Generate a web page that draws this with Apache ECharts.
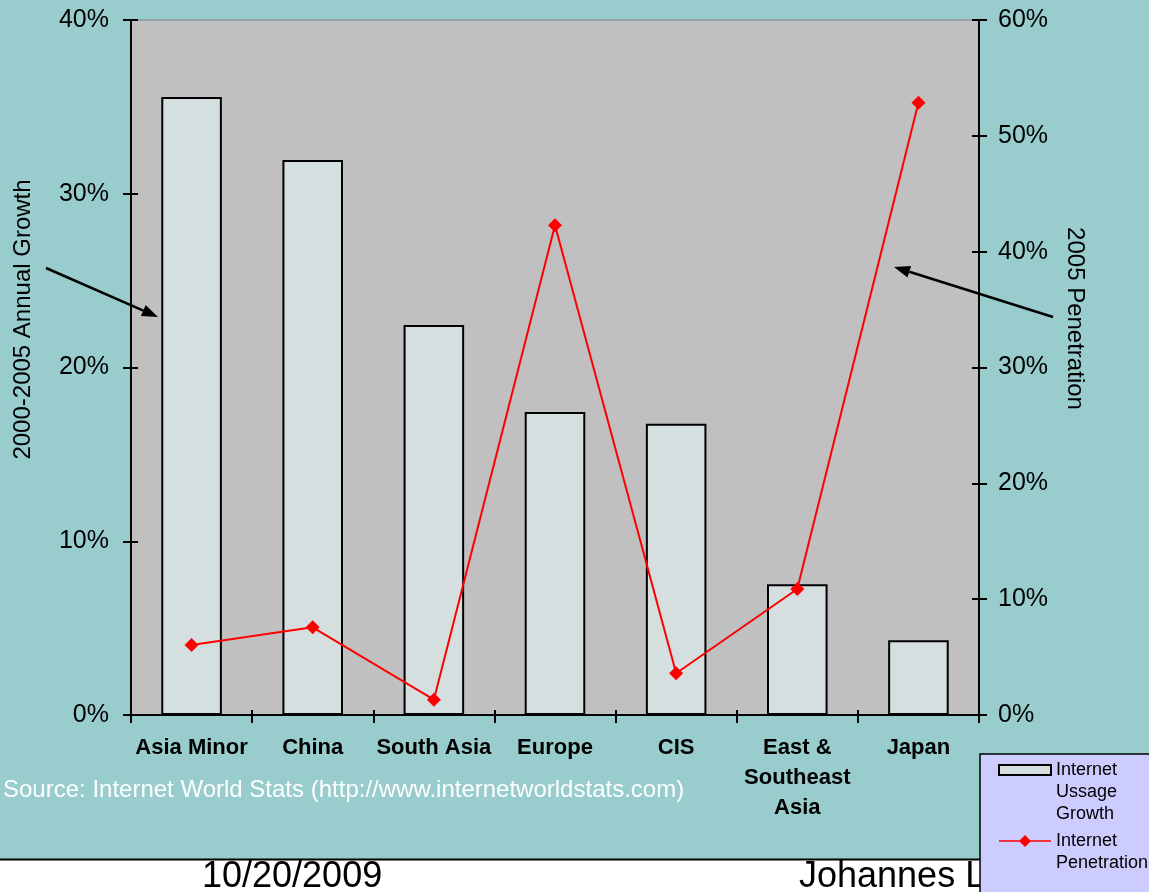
<!DOCTYPE html>
<html>
<head>
<meta charset="utf-8">
<script src="https://cdn.jsdelivr.net/npm/echarts@6/dist/echarts.min.js"></script>
<style>
html,body{margin:0;padding:0;background:#99CCCC;}
#chart{width:1149px;height:892px;}
</style>
</head>
<body>
<div id="chart"></div>
<script>
var categories = ['Asia Minor', 'China', 'South Asia', 'Europe', 'CIS', 'East &\nSoutheast\nAsia', 'Japan'];
var growthValues = [0.3557, 0.3194, 0.2245, 0.1744, 0.1676, 0.0752, 0.0430];
var penetrationValues = [0.0605, 0.0757, 0.0132, 0.4229, 0.0360, 0.1088, 0.5286];
var leftTicks = [0, 0.1, 0.2, 0.3, 0.4];
var rightTicks = [0, 0.1, 0.2, 0.3, 0.4, 0.5, 0.6];
var growthName = 'Internet\nUssage\nGrowth';
var penetrationName = 'Internet\nPenetration';

var FONT = '"Liberation Sans", Arial, Helvetica, sans-serif';
var pct = function (v) { return Math.round(v * 100) + '%'; };

function innerTickAxis(pos, ticks) {
  return {
    type: 'value', min: ticks[0], max: ticks[ticks.length - 1], interval: 0.1,
    position: pos,
    axisLine: {show: false},
    axisTick: {show: true, inside: true, length: 7, lineStyle: {color: '#000', width: 2}},
    axisLabel: {show: false},
    splitLine: {show: false}
  };
}

var chart = echarts.init(document.getElementById('chart'), null, {renderer: 'canvas'});
chart.setOption({
  backgroundColor: '#99CCCC',
  animation: false,
  textStyle: {fontFamily: FONT},
  grid: {
    left: 131, right: 170, top: 20, bottom: 177,
    show: true, backgroundColor: '#C0C0C0', borderColor: '#808080', borderWidth: 1
  },
  legend: {
    orient: 'vertical',
    left: 980, top: 754, height: 400,
    padding: [4, 40, 40, 18],
    itemWidth: 52, itemHeight: 66, itemGap: -7,
    backgroundColor: '#CCCCFF', borderColor: '#000', borderWidth: 1.5,
    selectedMode: false,
    z: 10,
    textStyle: {fontSize: 18, lineHeight: 22, color: '#000', fontFamily: FONT},
    data: [
      {name: growthName,
       icon: 'path://M0,0 M0,6 L52,6 L52,16 L0,16 Z M0,66',
       itemStyle: {color: '#D6DFE0', borderColor: '#000', borderWidth: 2}},
      {name: penetrationName,
       icon: 'path://M0,0 M0,21.2 L52,21.2 L52,22.8 L0,22.8 Z M26,16 L32,22 L26,28 L20,22 Z M0,66',
       itemStyle: {color: '#FF0000', borderWidth: 0}}
    ]
  },
  xAxis: [
    {
      type: 'category',
      data: categories,
      boundaryGap: true,
      position: 'bottom',
      axisLine: {lineStyle: {color: '#000', width: 2}},
      axisTick: {show: true, interval: 0, length: 8, lineStyle: {color: '#000', width: 2}},
      axisLabel: {interval: 0, color: '#000', fontSize: 22, fontWeight: 'bold', lineHeight: 30, margin: 18, fontFamily: FONT},
      splitLine: {show: false}
    },
    {
      type: 'category',
      data: categories,
      boundaryGap: true,
      position: 'bottom',
      axisLine: {show: false},
      axisTick: {show: true, inside: true, interval: 0, length: 5, lineStyle: {color: '#000', width: 2}},
      axisLabel: {show: false},
      splitLine: {show: false}
    }
  ],
  yAxis: [
    {
      type: 'value', min: leftTicks[0], max: leftTicks[leftTicks.length - 1], interval: 0.1,
      position: 'left',
      name: '2000-2005 Annual Growth', nameLocation: 'middle', nameRotate: 90, nameGap: 96,
      nameTextStyle: {fontSize: 24, color: '#000', padding: [0, 0, 0, 96], fontFamily: FONT},
      axisLine: {show: true, lineStyle: {color: '#000', width: 2}},
      axisTick: {show: true, length: 8, lineStyle: {color: '#000', width: 2}},
      axisLabel: {formatter: pct, color: '#000', fontSize: 25, margin: 22, fontFamily: FONT},
      splitLine: {show: false}
    },
    {
      type: 'value', min: rightTicks[0], max: rightTicks[rightTicks.length - 1], interval: 0.1,
      position: 'right',
      name: '2005 Penetration', nameLocation: 'middle', nameRotate: -90, nameGap: 84,
      nameTextStyle: {fontSize: 24, color: '#000', padding: [0, 98, 0, 0], fontFamily: FONT},
      axisLine: {show: true, lineStyle: {color: '#000', width: 2}},
      axisTick: {show: true, length: 8, lineStyle: {color: '#000', width: 2}},
      axisLabel: {formatter: pct, color: '#000', fontSize: 25, margin: 19, fontFamily: FONT},
      splitLine: {show: false}
    },
    innerTickAxis('left', leftTicks),
    innerTickAxis('right', rightTicks)
  ],
  series: [
    {
      name: growthName, type: 'bar', xAxisIndex: 0, yAxisIndex: 0, data: growthValues,
      barWidth: '50%',
      itemStyle: {color: '#D6DFE0', borderColor: '#000', borderWidth: 2}
    },
    {
      name: penetrationName, type: 'line', xAxisIndex: 0, yAxisIndex: 1, data: penetrationValues,
      symbol: 'diamond', symbolSize: 14,
      lineStyle: {color: '#FF0000', width: 2},
      itemStyle: {color: '#FF0000'}
    }
  ],
  graphic: [
    {type: 'rect', z: 0, shape: {x: 0, y: 860, width: 1149, height: 40}, style: {fill: '#FFFFFF'}},
    {type: 'line', z: 1, shape: {x1: 0, y1: 859.5, x2: 1149, y2: 859.5}, style: {stroke: '#000', lineWidth: 2}},
    {type: 'text', z: 1, style: {text: 'Source: Internet World Stats (http://www.internetworldstats.com)', x: 3, y: 790,
      fill: '#FFFFFF', font: '24px ' + FONT, align: 'left', verticalAlign: 'middle'}},
    {type: 'text', z: 1, style: {text: '10/20/2009', x: 202, y: 877,
      fill: '#000', font: '36px ' + FONT, align: 'left', verticalAlign: 'middle'}},
    {type: 'text', z: 1, style: {text: 'Johannes L', x: 799, y: 877,
      fill: '#000', font: '36px ' + FONT, align: 'left', verticalAlign: 'middle'}},
    {type: 'line', z: 5, shape: {x1: 46, y1: 268, x2: 143.3, y2: 310.6}, style: {stroke: '#000', lineWidth: 2.5}},
    {type: 'polygon', z: 5, shape: {points: [[158, 317], [140.9, 316.1], [145.7, 305.1]]}, style: {fill: '#000'}},
    {type: 'line', z: 5, shape: {x1: 1053, y1: 317, x2: 909.3, y2: 271.8}, style: {stroke: '#000', lineWidth: 2.5}},
    {type: 'polygon', z: 5, shape: {points: [[894, 267], [911.1, 266.1], [907.5, 277.5]]}, style: {fill: '#000'}}
  ]
});
</script>
</body>
</html>
